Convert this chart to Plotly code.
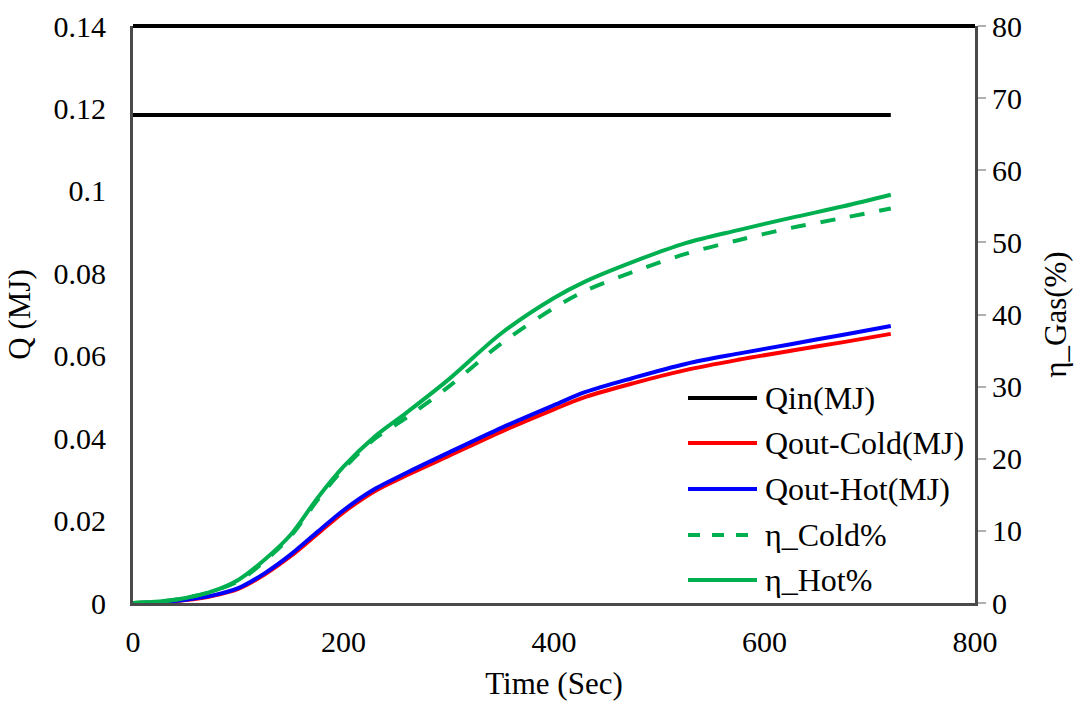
import plotly.graph_objects as go

# Time (s)
time_s = [0, 25, 50, 75, 100, 125, 150, 175, 200, 230, 260, 300, 350, 400, 430, 475, 525, 575, 625, 675, 720]

# Heat input / output (MJ)
q_in = [0.1184] * len(time_s)
q_out_cold = [0, 0.0002, 0.0007, 0.0017, 0.0034, 0.0069, 0.0114, 0.0167, 0.0220, 0.0272, 0.0310, 0.0357,
              0.0416, 0.0470, 0.0500, 0.0533, 0.0565, 0.0590, 0.0612, 0.0633, 0.0653]
q_out_hot = [0, 0.0002, 0.0008, 0.0018, 0.0036, 0.0072, 0.0118, 0.0172, 0.0225, 0.0277, 0.0316, 0.0365,
             0.0425, 0.0480, 0.0512, 0.0546, 0.0580, 0.0605, 0.0628, 0.0651, 0.0672]

# Gas efficiency (%)
eta_cold = [0, 0.2, 0.7, 1.6, 3.0, 5.8, 9.3, 14.2, 18.6, 22.8, 25.7, 30.0, 36.0, 40.9, 43.3, 45.9, 48.4,
            50.3, 52.0, 53.4, 54.7]
eta_hot = [0, 0.2, 0.7, 1.6, 3.2, 6.0, 9.5, 14.5, 18.9, 23.1, 26.4, 31.0, 37.4, 42.3, 44.6, 47.3, 49.9,
           51.7, 53.4, 55.0, 56.6]

x_ticks = [0, 200, 400, 600, 800]
q_ticks = [0, 0.02, 0.04, 0.06, 0.08, 0.1, 0.12, 0.14]
q_tick_text = ["0", "0.02", "0.04", "0.06", "0.08", "0.1", "0.12", "0.14"]
eta_ticks = [0, 10, 20, 30, 40, 50, 60, 70, 80]
eta_tick_text = [str(v) for v in eta_ticks]
x_tick_text = [str(v) for v in x_ticks]

FONT = "Times New Roman, Liberation Serif, serif"
GREEN = "#00B050"
TICK_FONT = dict(family=FONT, size=30, color="black")
TITLE_FONT = dict(family=FONT, size=31, color="black")

series = [
    dict(name="Qin(MJ)", y=q_in, color="black", dash="solid", axis="y", shape="linear"),
    dict(name="Qout-Cold(MJ)", y=q_out_cold, color="#FF0000", dash="solid", axis="y", shape="spline"),
    dict(name="Qout-Hot(MJ)", y=q_out_hot, color="#0000FF", dash="solid", axis="y", shape="spline"),
    dict(name="η_Cold%", y=eta_cold, color=GREEN, dash="15px,15px", axis="y2", shape="spline"),
    dict(name="η_Hot%", y=eta_hot, color=GREEN, dash="solid", axis="y2", shape="spline"),
]

fig = go.Figure()
for s in series:
    fig.add_trace(go.Scatter(
        x=time_s, y=s["y"], name=s["name"], yaxis=s["axis"], mode="lines",
        line=dict(color=s["color"], width=4, dash=s["dash"], shape=s["shape"], smoothing=0.9),
        showlegend=False,
    ))

# Hand-placed legend (long sample lines, text to the right)
L, R, T, B = 133, 115, 26, 102
W, H = 1090 - L - R, 705 - T - B


def px_x(p):
    return (p - L) / W


def px_y(p):
    return (705 - B - p) / H


legend_rows = [398, 443, 489, 535, 580]
for s, row in zip(series, legend_rows):
    fig.add_shape(type="line", xref="paper", yref="paper",
                  x0=px_x(688), x1=px_x(757), y0=px_y(row), y1=px_y(row),
                  line=dict(color=s["color"], width=4,
                            dash="dash" if s["dash"] != "solid" else "solid"))
    fig.add_annotation(xref="paper", yref="paper", x=px_x(763), y=px_y(row),
                       text=s["name"], showarrow=False, xanchor="left", yanchor="middle",
                       font=dict(family=FONT, size=32, color="black"))

# Heavy top border of the plot frame
fig.add_shape(type="line", xref="paper", yref="paper", x0=0, x1=1, y0=1, y1=1,
              line=dict(color="black", width=4))

axis_line = dict(showline=True, linecolor="#4a4a4a", linewidth=3, showgrid=False, zeroline=False,
                 automargin=False)

fig.update_layout(
    width=1090, height=705,
    margin=dict(l=L, r=R, t=T, b=B),
    paper_bgcolor="white", plot_bgcolor="white",
    font=dict(family=FONT, size=30, color="black"),
    xaxis=dict(range=[0, 800], tickvals=x_ticks, ticktext=x_tick_text, ticks="outside", ticklen=10,
               tickcolor="rgba(0,0,0,0)", tickfont=TICK_FONT,
               title=dict(text="Time (Sec)", font=TITLE_FONT, standoff=16), **axis_line),
    yaxis=dict(range=[0, 0.14], tickvals=q_ticks, ticktext=q_tick_text, ticks="outside",
               ticklen=18, tickcolor="rgba(0,0,0,0)", tickfont=TICK_FONT,
               title=dict(text="Q (MJ)", font=TITLE_FONT, standoff=14), **axis_line),
    yaxis2=dict(range=[0, 80], tickvals=eta_ticks, ticktext=eta_tick_text, overlaying="y", side="right",
                ticks="outside", ticklen=8, tickwidth=2, tickcolor="#b0b0b0", tickfont=TICK_FONT,
                title=dict(text="η_Gas(%)", font=TITLE_FONT, standoff=24), **axis_line),
)

fig.write_html("out.html")
